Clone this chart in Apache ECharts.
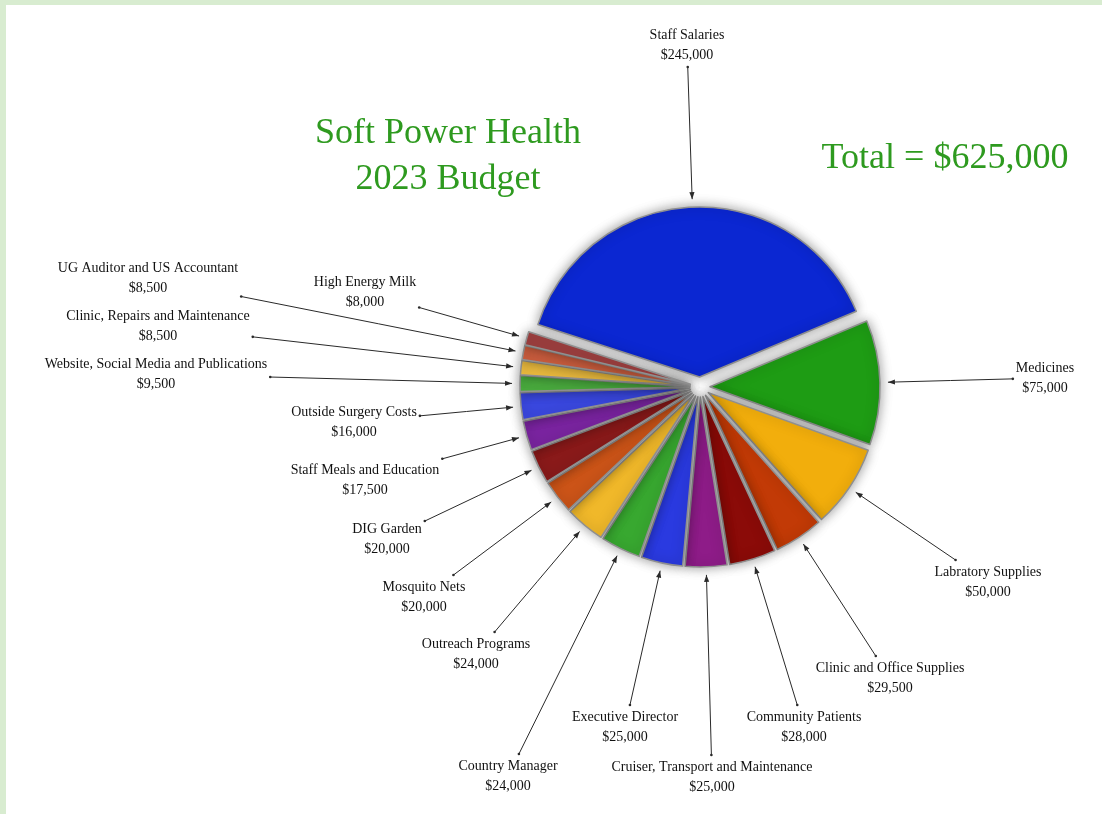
<!DOCTYPE html>
<html>
<head>
<meta charset="utf-8">
<script src="https://cdn.jsdelivr.net/npm/echarts@6/dist/echarts.min.js"></script>
<style>
html,body{margin:0;padding:0;background:#d8ecd0;}
#c{width:1102px;height:814px;}
</style>
</head>
<body>
<div id="c"></div>
<script>
const categories = [
  'Staff Salaries','Medicines','Labratory Supplies','Clinic and Office Supplies',
  'Community Patients','Cruiser, Transport and Maintenance','Executive Director',
  'Country Manager','Outreach Programs','Mosquito Nets','DIG Garden',
  'Staff Meals and Education','Outside Surgery Costs',
  'Website, Social Media and Publications','Clinic, Repairs and Maintenance',
  'UG Auditor and US Accountant','High Energy Milk'
];
const values = [245000,75000,50000,29500,28000,25000,25000,24000,24000,20000,20000,17500,16000,9500,8500,8500,8000];
const colors = ['#0b27d2','#1e9c14','#f2ae0c','#c23a06','#8b0b08','#8e1c88','#2a3ae0',
  '#38a830','#f0b82a','#cc5418','#8a1a1a','#7a24a0','#3a48e0','#4cb040','#f2c040','#d06040','#a04040'];
// label anchor (centre of the two-line label block), layout only
const labelPos = [[687,45],[1045,378],[988,582],[890,678],[804,727],[712,777],[625,727],
  [508,776],[476,654],[424,597],[387,539],[365,480],[354,422],[156,374],[158,326],[148,278],[365,292]];

const fmt = v => '$' + v.toLocaleString('en-US');
const chart = echarts.init(document.getElementById('c'));

function edgePoint(cx, cy, w, h, sx, sy) {
  const dx = sx - cx, dy = sy - cy;
  const hw = w / 2 + 3, hh = h / 2 + 2;
  let t = Infinity;
  if (dx !== 0) t = Math.min(t, hw / Math.abs(dx));
  if (dy !== 0) t = Math.min(t, hh / Math.abs(dy));
  return [cx + dx * t, cy + dy * t];
}

const PIE_CENTER = [700, 387], PIE_R = 170, START = 162;
const arrows = [];
const bgRect = {type:'rect', z:-10, silent:true, shape:{x:6,y:5,width:1096,height:809}, style:{fill:'#ffffff'}};

chart.setOption({
  backgroundColor: '#d8ecd0',
  animation: false,
  graphic: [bgRect],
  title: [
    {text:'Soft Power Health\n2023 Budget', left:443, top:106, textAlign:'center',
     textStyle:{fontFamily:'Liberation Serif', fontWeight:'normal', fontSize:36, lineHeight:46, color:'#2e9a1f'}},
    {text:'Total = $625,000', left:940, top:136, textAlign:'center',
     textStyle:{fontFamily:'Liberation Serif', fontWeight:'normal', fontSize:36, color:'#2e9a1f'}}
  ],
  series: [{
    type: 'pie',
    center: PIE_CENTER,
    radius: [0, PIE_R],
    startAngle: START,
    clockwise: true,
    selectedMode: 'multiple',
    selectedOffset: 10,
    emphasis: {disabled: true},
    itemStyle: {borderColor:'#8f8f8f', borderWidth:1.5, shadowBlur:12, shadowColor:'rgba(0,0,0,0.4)'},
    label: {show: false},
    labelLine: {show: false},
    data: categories.map((n, i) => ({name: n, value: values[i], selected: true, itemStyle: {color: colors[i]}}))
  }, {
    type: 'pie',
    center: PIE_CENTER,
    radius: [0, PIE_R],
    startAngle: START,
    clockwise: true,
    silent: true,
    z: 1,
    avoidLabelOverlap: false,
    emphasis: {disabled: true},
    itemStyle: {color: 'rgba(0,0,0,0)', borderWidth: 0},
    label: {
      show: true,
      formatter: p => p.name + '\n' + fmt(p.value),
      fontFamily: 'Liberation Serif', fontSize: 14, lineHeight: 20, color: '#111', align:'center'
    },
    labelLine: {show: true, length: 10, length2: 10, smooth: false, lineStyle:{color:'#2a2a2a', width:1}},
    labelLayout: function (params) {
      const i = params.dataIndex;
      const [cx, cy] = labelPos[i];
      const w = params.labelRect.width, h = params.labelRect.height;
      const res = {x: cx, y: cy, align: 'center', verticalAlign: 'middle'};
      const pts = params.labelLinePoints;
      if (pts && pts.length >= 2) {
        const p0 = pts[0], p1 = pts[1];
        const ddx = p1[0] - p0[0], ddy = p1[1] - p0[1];
        const l = Math.hypot(ddx, ddy) || 1;
        const s = [p0[0] + ddx / l * 18, p0[1] + ddy / l * 18];
        const e = edgePoint(cx, cy, w, h, s[0], s[1]);
        res.labelLinePoints = [s, [(s[0]+e[0])/2, (s[1]+e[1])/2], e];
        arrows[i] = {s: s, e: e};
      }
      return res;
    },
    data: categories.map((n, i) => ({name: n, value: values[i]}))
  }]
});

// arrowheads at the pie end of each leader line, small dot at the label end
const extra = [bgRect];
arrows.forEach(a => {
  if (!a) return;
  const dx = a.e[0] - a.s[0], dy = a.e[1] - a.s[1];
  const l = Math.hypot(dx, dy) || 1;
  const ux = dx / l, uy = dy / l, px = -uy, py = ux;
  const L = 7, W = 2.6;
  extra.push({type:'polygon', silent:true, z:10, shape:{points:[
      a.s,
      [a.s[0] + ux*L + px*W, a.s[1] + uy*L + py*W],
      [a.s[0] + ux*L - px*W, a.s[1] + uy*L - py*W]
    ]}, style:{fill:'#2a2a2a'}});
  extra.push({type:'circle', silent:true, z:10, shape:{cx:a.e[0], cy:a.e[1], r:1.3}, style:{fill:'#2a2a2a'}});
});
chart.setOption({graphic: extra}, {replaceMerge: ['graphic']});
</script>
</body>
</html>
